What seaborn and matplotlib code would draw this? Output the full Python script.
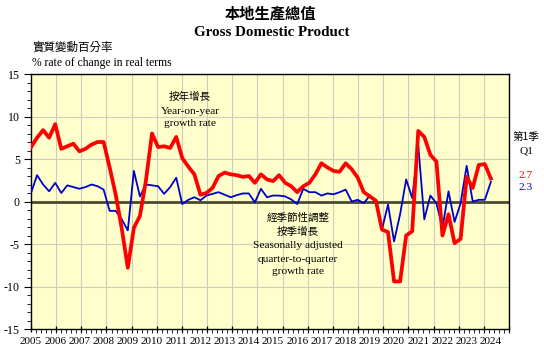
import numpy as np
import pandas as pd
import matplotlib
matplotlib.use("Agg")
import matplotlib.pyplot as plt
import seaborn as sns

# ---------------- data ----------------
years = [str(y) for y in range(2005, 2025)]
quarter_index = list(range(77))  # 2005Q1 .. 2024Q1

yoy = [6.4, 7.5, 8.4, 7.5,
       9.1, 6.2, 6.5, 6.8,
       5.9, 6.2, 6.7, 7.0,
       7.0, 4.0, 0.8, -3.2,
       -7.8, -3.1, -1.7, 2.5,
       8.0, 6.4, 6.5, 6.3,
       7.6, 5.1, 4.1, 3.2,
       0.8, 1.0, 1.6, 3.0,
       3.4, 3.2, 3.1, 2.9,
       3.0, 2.2, 3.2, 2.6,
       2.4, 3.1, 2.2, 1.8,
       1.1, 1.8, 2.2, 3.2,
       4.5, 4.0, 3.6, 3.5,
       4.5, 3.8, 2.8, 1.1,
       0.6, 0.1, -3.3, -3.6,
       -9.4, -9.4, -4.0, -3.5,
       8.3, 7.6, 5.5, 4.7,
       -4.0, -1.5, -4.9, -4.4,
       2.9, 1.6, 4.3, 4.4,
       2.7]

qoq = [1.0, 3.1, 2.0, 1.2,
       2.2, 1.0, 1.9, 1.7,
       1.5, 1.7, 2.0, 1.8,
       1.4, -1.1, -1.1, -2.1,
       -3.4, 3.6, 0.6, 2.0,
       1.9, 1.8, 0.9, 1.7,
       2.8, -0.3, 0.2, 0.5,
       0.15, 0.7, 0.9, 1.1,
       0.8, 0.5, 0.75, 0.95,
       0.95, -0.1, 1.5, 0.5,
       0.7, 0.7, 0.6, 0.25,
       -0.3, 1.5, 1.1, 1.1,
       0.7, 0.95, 0.85, 1.1,
       1.4, 0.0, 0.2, -0.2,
       0.7, -0.1, -3.3, -0.35,
       -4.7, -1.5, 2.6, 0.4,
       6.6, -2.1, 0.7, -0.2,
       -3.1, 1.2, -2.4, -0.2,
       4.2, 0.0, 0.2, 0.2,
       2.3]

latest_yoy = "2.7"
latest_qoq = "2.3"
y_ticks = [-15, -10, -5, 0, 5, 10, 15]

# ---------------- style ----------------
CJK = ["Noto Sans CJK TC", "DejaVu Sans"]
SERIF = ["Liberation Serif", "DejaVu Serif"]
RED = "#FF0000"
BLUE = "#0000CC"

fig = plt.figure(figsize=(5.44, 3.55), dpi=100)
ax = fig.add_axes([0.057, 0.0732, 0.8787, 0.7183])
ax.set_facecolor("#FFFFCC")

df = pd.DataFrame({"q": quarter_index, "yoy": yoy, "qoq": qoq})

n_slots = 79  # axis covers 2005Q1 .. 2024Q4
ax.set_xlim(0, n_slots)
ax.set_ylim(-15, 15)

# grid
for k in range(20):
    ax.axvline(n_slots / 19 * k, color="#cdcdbd", lw=0.8, zorder=0)
for v in [-10, -5, 5, 10]:
    ax.axhline(v, color="#cdcdbd", lw=0.8, zorder=0)
ax.axhline(0, color="#4a4a30", lw=2.0, zorder=1)

sns.lineplot(data=df, x="q", y="qoq", ax=ax, color=BLUE, lw=1.3, zorder=3)
sns.lineplot(data=df, x="q", y="yoy", ax=ax, color=RED, lw=2.7, zorder=4)

ax.set_xlabel("")
ax.set_ylabel("")

# y axis
ax.set_yticks(y_ticks)
ax.set_yticklabels([str(t) for t in y_ticks], family=SERIF, fontsize=8.6)
ax.set_yticks(np.arange(-15, 16, 1), minor=True)
ax.tick_params(axis="y", which="major", length=5, width=0.8, pad=3, direction="out")
ax.tick_params(axis="y", which="minor", length=3, width=0.6, direction="out")

# x axis: labels at Q1 of each year
ax.set_xticks([4 * i for i in range(len(years))])
ax.set_xticklabels(years, family=SERIF, fontsize=8)
ax.tick_params(axis="x", which="major", length=0, pad=6)
ax.set_xticks([n_slots / 95 * k for k in range(96)], minor=True)
ax.tick_params(axis="x", which="minor", length=3, width=0.6, direction="out")
sec = ax.secondary_xaxis("bottom")
sec.set_xticks([n_slots / 19 * k for k in range(20)])
sec.set_xticklabels([])
sec.tick_params(axis="x", length=5, width=0.9, direction="inout")
sec.spines["bottom"].set_visible(False)

for s in ax.spines.values():
    s.set_color("black")
    s.set_linewidth(1.0)

# titles
fig.text(0.497, 0.962, "本地生產總值", family=CJK, fontsize=11, fontweight="bold",
         ha="center", va="center")
fig.text(0.5, 0.908, "Gross Domestic Product", family=SERIF, fontsize=10.8,
         fontweight="bold", ha="center", va="center")
fig.text(0.059, 0.868, "實質變動百分率", family=CJK, fontsize=8.3, ha="left", va="center")
fig.text(0.059, 0.822, "% rate of change in real terms", family=SERIF, fontsize=8.4,
         ha="left", va="center")

# annotations
fig.text(190 / 544, 1 - 97 / 355, "按年增長", family=CJK, fontsize=7.6, ha="center", va="center")
fig.text(190 / 544, 1 - 111 / 355, "Year-on-year", family=SERIF, fontsize=8.2, ha="center", va="center")
fig.text(190 / 544, 1 - 124 / 355, "growth rate", family=SERIF, fontsize=8.2, ha="center", va="center")

fig.text(298 / 544, 1 - 218 / 355, "經季節性調整", family=CJK, fontsize=7.6, ha="center", va="center")
fig.text(298 / 544, 1 - 232 / 355, "按季增長", family=CJK, fontsize=7.6, ha="center", va="center")
fig.text(298 / 544, 1 - 246 / 355, "Seasonally adjusted", family=SERIF, fontsize=8.2, ha="center", va="center")
fig.text(298 / 544, 1 - 259 / 355, "quarter-to-quarter", family=SERIF, fontsize=8.2, ha="center", va="center")
fig.text(298 / 544, 1 - 272 / 355, "growth rate", family=SERIF, fontsize=8.2, ha="center", va="center")

fig.text(526 / 544, 1 - 137 / 355, "第1季", family=CJK, fontsize=7.6, ha="center", va="center")
fig.text(526 / 544, 1 - 151 / 355, "Q1", family=SERIF, fontsize=8.2, ha="center", va="center")
fig.text(526 / 544, 1 - 176 / 355, latest_yoy, family=SERIF, fontsize=8.2, color=RED, ha="center", va="center")
fig.text(526 / 544, 1 - 188 / 355, latest_qoq, family=SERIF, fontsize=8.2, color=BLUE, ha="center", va="center")

fig.savefig("out.png", dpi=100, facecolor="white")
